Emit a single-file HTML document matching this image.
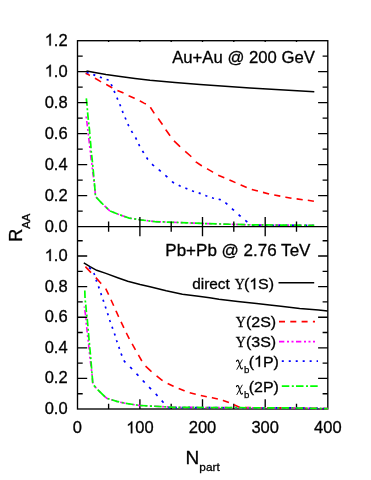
<!DOCTYPE html>
<html><head><meta charset="utf-8"><title>RAA vs Npart</title>
<style>html,body{margin:0;padding:0;background:#fff}svg{display:block;will-change:transform}text{font-family:"Liberation Sans",sans-serif;fill:#000;stroke:#000;stroke-width:0.3px}.sf{font-family:"Liberation Serif",serif}</style>
</head><body>
<svg width="371" height="480" viewBox="0 0 371 480">
<rect width="371" height="480" fill="#fff"/>
<g fill="none" stroke-linejoin="miter">
<polyline points="86.5,71.0 96.0,72.8 106.0,74.5 118.4,76.3 135.0,78.5 150.0,80.3 175.0,82.5 200.0,84.4 225.0,86.2 250.0,87.9 280.0,89.7 314.3,91.7" stroke="#000" stroke-width="1.5"/>
<path d="M85.60 73.30L88.90 74.90L89.90 75.43M95.00 78.15L95.10 78.20L100.30 81.40L101.10 81.81M106.20 84.40L106.80 84.70L111.60 87.50L112.30 87.86M117.40 90.44L123.00 92.80L123.50 93.06M128.60 95.75L128.70 95.80L134.40 98.20L134.70 98.35M139.80 100.85L140.10 101.00L144.00 103.10L145.90 104.03M150.36 107.30L154.27 113.40M158.20 118.50L162.40 124.50L162.46 124.60M165.74 129.70L165.80 129.80L169.90 135.50L170.12 135.80M174.00 140.89L179.50 146.20L180.10 146.75M185.20 151.41L190.80 156.20L191.25 156.70M195.81 161.80L195.90 161.90L201.60 165.70L201.90 165.87M207.00 168.73L207.30 168.90L212.90 172.10L213.10 172.22M218.20 175.17L224.30 177.79M229.40 179.98L231.30 180.80L235.50 182.64M240.60 184.87L240.90 185.00L246.70 187.42M251.80 189.40L257.90 191.07M263.00 192.38L269.10 194.05M274.20 194.98L274.30 195.00L280.30 196.09M285.40 197.12L285.80 197.20L291.50 198.25M296.60 198.89L296.70 198.90L302.70 199.78M307.80 200.33L313.90 201.25" stroke="#ff0000" stroke-width="1.6"/>
<path d="M86.10 116.50L86.38 118.50M86.72 121.00L87.00 123.00L87.41 126.30M87.74 129.00L87.80 129.50L87.97 131.00M88.26 133.50L88.49 135.50M88.77 138.00L89.00 140.00L89.36 143.30M89.65 146.00L89.70 146.50L89.88 148.00M90.18 150.50L90.30 151.50L90.39 152.50M90.62 155.00L90.80 157.00L91.31 160.30M91.72 163.00L91.80 163.50L91.97 165.00M92.24 167.50L92.30 168.00L92.46 169.50M92.74 172.00L92.90 173.50L93.55 177.30M93.90 180.00L94.12 182.00M94.40 184.50L94.60 186.30L94.62 186.50M94.85 189.00L95.30 193.90L95.33 194.30M95.97 197.00L97.84 199.00M100.19 201.50L101.50 202.90L102.10 203.47M104.60 205.85L105.60 206.80L109.70 210.80L109.90 210.88M112.60 211.98L114.60 212.80M117.10 213.81L117.80 214.10L119.10 214.56M121.60 215.44L126.00 217.00L126.90 217.31M129.60 218.16L131.60 218.47M134.10 218.86L136.10 219.18M138.60 219.57L140.10 219.80L143.90 220.26M146.60 220.59L148.60 220.83M151.10 221.13L153.10 221.37M155.60 221.62L160.90 221.83M163.60 221.93L165.60 222.01M168.10 222.11L170.10 222.19M172.60 222.28L177.90 222.49M180.60 222.59L182.60 222.67M185.10 222.77L187.10 222.85M189.60 222.94L194.90 223.15M197.60 223.26L199.60 223.33M202.10 223.43L203.90 223.50L204.10 223.51M206.60 223.58L211.90 223.73M214.60 223.81L216.60 223.86M219.10 223.93L221.10 223.99M223.60 224.06L228.90 224.21M231.60 224.29L233.60 224.35M236.10 224.42L238.10 224.47M240.60 224.55L245.90 224.70M248.60 224.77L249.50 224.80L250.60 224.81M253.10 224.83L255.10 224.85M257.60 224.88L262.90 224.92M265.60 224.95L267.60 224.97M270.10 224.99L272.10 225.01M274.60 225.03L279.90 225.08M282.60 225.11L284.60 225.12M287.10 225.15L289.10 225.17M291.60 225.19L296.90 225.24M299.60 225.26L301.60 225.28M304.10 225.31L306.10 225.32M308.60 225.35L313.90 225.40" stroke="#ff00ff" stroke-width="1.6"/>
<path d="M86.60 72.50L87.60 72.80L88.60 73.12M93.26 74.63L94.10 74.90L95.26 75.34M99.92 77.10L100.70 77.40L101.92 77.82M106.58 79.45L107.60 79.80L108.58 80.19M111.18 84.24L111.60 85.20L112.05 86.24M114.06 90.90L114.40 91.70L114.91 92.90M116.90 97.56L117.30 98.50L117.76 99.56M119.76 104.22L120.10 105.00L120.56 106.22M122.32 110.88L122.70 111.90L123.12 112.88M125.09 117.54L125.50 118.50L125.94 119.54M127.93 124.20L128.40 125.30L128.89 126.20M131.43 130.86L132.00 131.90L132.59 132.86M135.46 137.52L136.00 138.40L136.52 139.52M138.69 144.18L139.40 145.70L139.69 146.18M142.48 150.84L143.30 152.20L143.70 152.84M146.58 157.50L147.70 159.30L147.88 159.50M152.12 164.16L152.70 164.80L154.06 165.90M158.72 169.65L159.40 170.20L160.72 171.35M165.38 175.39L166.20 176.10L167.38 177.19M172.04 181.50L172.90 182.30L174.04 182.90M178.70 185.33L179.60 185.80L180.70 186.24M185.36 188.09L186.40 188.50L187.36 188.89M192.02 190.77L192.60 191.00L194.02 191.45M198.68 192.91L199.30 193.10L200.68 193.65M205.34 195.50L206.10 195.80L207.34 196.21M212.00 197.74L212.80 198.00L214.00 198.26M218.66 199.28L220.10 199.60L220.66 199.94M225.32 202.80L226.30 203.40L227.32 204.34M231.98 208.64L232.70 209.30L233.98 210.47M238.64 214.72L239.50 215.50L240.64 216.46M245.30 220.39L246.50 221.40L247.30 222.08M251.96 225.20L253.96 225.21M258.62 225.24L260.62 225.25M265.28 225.27L267.28 225.28M271.94 225.30L273.94 225.31M278.60 225.33L280.60 225.34M285.26 225.36L287.26 225.37M291.92 225.39L293.92 225.40M298.58 225.43L300.58 225.43M305.24 225.46L307.24 225.47M311.90 225.49L313.90 225.50" stroke="#0000ff" stroke-width="1.7"/>
<path d="M86.30 98.30L87.00 104.90L87.07 105.80M87.27 108.30L87.43 110.30M87.60 112.45L88.20 118.70L88.35 119.95M88.64 122.45L88.70 123.00L88.87 124.45M89.11 126.60L89.50 130.00L89.79 134.10M89.97 136.60L90.00 137.00L90.16 138.60M90.38 140.75L90.70 144.00L91.00 148.25M91.18 150.75L91.20 151.00L91.40 152.75M91.65 154.90L92.00 158.00L92.47 162.40M92.74 164.90L92.80 165.50L92.93 166.90M93.13 169.05L93.50 173.00L93.77 176.55M93.98 179.05L94.18 181.05M94.39 183.20L94.70 186.30L95.05 190.70M95.24 193.20L95.30 193.90L95.40 195.20M96.30 197.35L101.50 202.90L103.45 204.75M105.95 207.14L107.95 209.09M110.10 210.96L117.60 214.02M120.10 214.91L122.10 215.62M124.25 216.38L126.00 217.00L129.20 218.10L131.75 218.50M134.25 218.89L136.25 219.20M138.40 219.53L140.10 219.80L145.90 220.50M148.40 220.80L150.40 221.04M152.55 221.30L155.00 221.60L160.05 221.80M162.55 221.89L164.55 221.97M166.70 222.05L174.20 222.35M176.70 222.44L178.70 222.52M180.85 222.60L188.35 222.90M190.85 222.99L192.85 223.07M195.00 223.15L202.50 223.45M205.00 223.53L207.00 223.59M209.15 223.65L216.65 223.86M219.15 223.93L221.15 223.99M223.30 224.05L230.80 224.27M233.30 224.34L235.30 224.40M237.45 224.46L244.95 224.67M247.45 224.74L249.45 224.80M251.60 224.82L259.10 224.89M261.60 224.91L263.60 224.93M265.75 224.95L273.25 225.02M275.75 225.04L277.75 225.06M279.90 225.08L287.40 225.15M289.90 225.17L291.90 225.19M294.05 225.21L301.55 225.28M304.05 225.31L306.05 225.32M308.20 225.34L314.30 225.40" stroke="#00ff00" stroke-width="1.7"/>
</g>
<g stroke="#000" stroke-width="1.35" fill="none">
<rect x="77.5" y="40.7" width="250.3" height="368.3"/>
<line x1="77.5" y1="226.6" x2="327.8" y2="226.6"/>
<path d="M77.5 211.1h5.2M327.8 211.1h-5.2M77.5 195.6h9.7M327.8 195.6h-9.7M77.5 180.1h5.2M327.8 180.1h-5.2M77.5 164.6h9.7M327.8 164.6h-9.7M77.5 149.1h5.2M327.8 149.1h-5.2M77.5 133.6h9.7M327.8 133.6h-9.7M77.5 118.1h5.2M327.8 118.1h-5.2M77.5 102.6h9.7M327.8 102.6h-9.7M77.5 87.1h5.2M327.8 87.1h-5.2M77.5 71.6h9.7M327.8 71.6h-9.7M77.5 56.1h5.2M327.8 56.1h-5.2M77.5 393.7h5.2M327.8 393.7h-5.2M77.5 378.4h9.7M327.8 378.4h-9.7M77.5 363.1h5.2M327.8 363.1h-5.2M77.5 347.8h9.7M327.8 347.8h-9.7M77.5 332.5h5.2M327.8 332.5h-5.2M77.5 317.2h9.7M327.8 317.2h-9.7M77.5 301.9h5.2M327.8 301.9h-5.2M77.5 286.6h9.7M327.8 286.6h-9.7M77.5 271.3h5.2M327.8 271.3h-5.2M77.5 256.0h9.7M327.8 256.0h-9.7M77.5 240.7h5.2M327.8 240.7h-5.2M108.6 40.7v1.3M108.6 221.4v10.4M108.6 409.0v-5.2M139.9 40.7v1.3M139.9 216.9v19.4M139.9 409.0v-9.7M171.2 40.7v1.3M171.2 221.4v10.4M171.2 409.0v-5.2M202.5 40.7v1.3M202.5 216.9v19.4M202.5 409.0v-9.7M233.8 40.7v1.3M233.8 221.4v10.4M233.8 409.0v-5.2M265.2 40.7v1.3M265.2 216.9v19.4M265.2 409.0v-9.7M296.5 40.7v1.3M296.5 221.4v10.4M296.5 409.0v-5.2"/>
</g>
<g fill="none" stroke-linejoin="miter">
<polyline points="83.8,262.8 90.0,266.7 96.7,270.3 105.9,273.4 118.4,278.0 127.7,281.3 140.1,284.5 150.0,286.8 166.2,290.8 182.4,294.2 198.5,296.2 209.7,297.8 218.9,299.2 237.7,301.6 256.6,303.6 269.6,305.0 280.9,306.2 299.7,308.4 318.6,310.1 327.6,310.9" stroke="#000" stroke-width="1.5"/>
<path d="M85.40 266.60L90.10 271.60L91.05 272.60M95.84 277.65L100.40 282.80L101.20 283.65M105.74 288.70L108.40 294.20L108.63 294.70M110.97 299.75L113.60 305.50L113.71 305.75M115.96 310.80L116.00 310.90L118.50 316.50L118.64 316.80M121.05 321.85L123.91 327.85M126.31 332.90L126.60 333.50L129.30 338.90M132.12 343.95L132.70 344.90L135.45 349.95M138.38 355.00L138.50 355.20L141.84 361.00M145.55 366.05L151.20 371.30L151.55 371.61M156.60 375.95L162.10 380.30L162.60 380.59M167.65 383.51L173.40 386.20L173.65 386.31M178.70 388.50L184.30 390.70L184.70 390.86M189.75 392.76L195.75 394.26M200.80 395.50L206.80 396.70M211.85 397.64L212.20 397.70L217.85 398.95M222.90 400.34L223.10 400.40L228.90 402.55M233.95 404.78L234.00 404.80L239.95 407.53M245.00 407.63L251.00 407.67M256.05 407.70L262.05 407.73M267.10 407.76L273.10 407.80M278.15 407.83L284.15 407.86M289.20 407.90L290.00 407.90L295.20 408.00M300.25 408.09L306.25 408.20M311.30 408.29L317.30 408.41M322.35 408.50L327.80 408.60" stroke="#ff0000" stroke-width="1.6"/>
<path d="M84.40 306.50L84.52 307.70M84.77 310.20L84.80 310.50L85.50 314.50L85.60 315.50M85.87 318.20L86.00 319.50L86.03 320.20M86.16 322.70L86.20 323.50L86.34 324.70M86.64 327.20L86.80 328.50L87.23 332.50M87.51 335.20L87.60 336.00L87.75 337.20M88.06 339.70L88.20 340.80L88.30 341.70M88.59 344.20L88.80 346.00L89.12 349.50M89.36 352.20L89.55 354.20M89.78 356.70L89.90 358.00L89.99 358.70M90.33 361.20L90.70 364.00L91.03 366.50M91.39 369.20L91.50 370.00L91.64 371.20M91.94 373.70L92.18 375.70M92.37 378.20L92.70 382.70L92.87 383.50M94.57 386.20L96.40 388.20M98.70 390.70L100.70 392.61M103.20 395.00L105.50 397.20L107.20 398.40L108.50 398.81M111.20 399.65L113.20 400.27M115.70 401.06L116.80 401.40L117.70 401.60M120.20 402.16L125.30 403.30L125.50 403.33M128.20 403.74L130.20 404.05M132.70 404.43L134.70 404.74M137.20 405.12L139.70 405.50L142.50 405.64M145.20 405.78L147.20 405.89M149.70 406.02L151.70 406.12M154.20 406.25L159.50 406.52M162.20 406.66L164.20 406.77M166.70 406.90L168.70 407.00M171.20 407.13L174.50 407.30L176.50 407.31M179.20 407.33L181.20 407.34M183.70 407.36L185.70 407.37M188.20 407.38L193.50 407.42M196.20 407.43L198.20 407.44M200.70 407.46L202.70 407.47M205.20 407.49L210.50 407.52M213.20 407.54L215.20 407.55M217.70 407.56L219.70 407.58M222.20 407.59L227.50 407.62M230.20 407.64L232.20 407.65M234.70 407.67L236.70 407.68M239.20 407.70L240.00 407.70L244.50 407.72M247.20 407.73L249.20 407.74M251.70 407.75L253.70 407.75M256.20 407.76L261.50 407.79M264.20 407.80L266.20 407.80M268.70 407.81L270.70 407.82M273.20 407.83L278.50 407.85M281.20 407.86L283.20 407.87M285.70 407.88L287.70 407.89M290.20 407.90L295.50 408.00M298.20 408.05L300.20 408.09M302.70 408.14L304.70 408.17M307.20 408.22L312.50 408.32M315.20 408.37L317.20 408.40M319.70 408.45L321.70 408.49M324.20 408.53L327.80 408.60" stroke="#ff00ff" stroke-width="1.6"/>
<path d="M88.92 267.58L89.70 268.10L90.92 268.95M93.96 272.94L94.20 273.80L94.56 274.94M96.04 279.66L96.40 280.80L96.72 281.66M98.46 286.38L98.80 287.30L99.17 288.38M100.76 293.10L101.00 293.80L101.45 295.10M103.07 299.82L103.30 300.50L103.74 301.82M105.31 306.54L105.60 307.40L105.97 308.54M107.52 313.26L107.80 314.10L108.17 315.26M109.67 319.98L110.00 321.00L110.35 321.98M112.01 326.70L112.40 327.80L112.72 328.70M114.41 333.42L114.80 334.50L115.08 335.42M116.51 340.14L116.80 341.10L117.16 342.14M118.81 346.86L119.10 347.70L119.50 348.86M121.12 353.58L121.50 354.70L121.89 355.58M123.96 360.30L124.40 361.30L125.40 362.30M130.12 367.02L131.00 367.90L132.05 369.02M136.50 373.74L137.40 374.70L138.38 375.74M142.81 380.46L143.60 381.30L144.69 382.46M149.12 387.18L149.80 387.90L151.06 389.18M155.71 393.90L156.30 394.50L157.54 395.90M161.72 400.62L162.50 401.50L163.58 402.62M168.14 407.17L169.00 407.60L170.14 407.60M174.86 407.61L176.86 407.62M181.58 407.63L183.58 407.64M188.30 407.65L190.30 407.65M195.02 407.66L197.02 407.67M201.74 407.68L203.74 407.69M208.46 407.70L210.46 407.70M215.18 407.71L217.18 407.72M221.90 407.73L223.90 407.74M228.62 407.75L230.62 407.75M235.34 407.76L237.34 407.77M242.06 407.78L244.06 407.79M248.78 407.80L250.78 407.80M255.50 407.81L257.50 407.82M262.22 407.83L264.22 407.84M268.94 407.85L270.94 407.85M275.66 407.86L277.66 407.87M282.38 407.88L284.38 407.89M289.10 407.90L290.00 407.90L291.10 407.92M295.82 408.01L297.82 408.04M302.54 408.13L304.54 408.17M309.26 408.26L311.26 408.29M315.98 408.38L317.98 408.42M322.70 408.51L324.70 408.54" stroke="#0000ff" stroke-width="1.7"/>
<path d="M84.80 290.50L85.00 297.00L85.07 298.00M85.25 300.50L85.30 301.20L85.47 302.50M85.75 304.65L85.80 305.00L86.30 311.00L86.44 312.15M86.76 314.65L86.80 315.00L86.99 316.65M87.23 318.80L87.80 325.00L87.91 326.30M88.13 328.80L88.30 330.80M88.48 332.95L89.12 340.45M89.34 342.95L89.53 344.95M89.74 347.10L90.30 353.00L90.44 354.60M90.65 357.10L90.82 359.10M91.01 361.25L91.10 362.30L91.60 368.75M91.81 371.25L91.98 373.25M92.16 375.40L92.20 375.90L92.70 382.70L92.74 382.90M93.83 385.40L95.67 387.40M97.64 389.55L98.70 390.70L105.05 396.77M107.55 398.51L109.55 399.13M111.70 399.81L116.80 401.40L119.20 401.94M121.70 402.50L123.70 402.94M125.85 403.38L133.35 404.53M135.85 404.91L137.85 405.22M140.00 405.52L147.50 405.90M150.00 406.03L152.00 406.14M154.15 406.25L161.65 406.64M164.15 406.76L166.15 406.87M168.30 406.98L174.50 407.30L175.80 407.31M178.30 407.32L180.30 407.34M182.45 407.35L189.95 407.39M192.45 407.41L194.45 407.42M196.60 407.43L204.10 407.48M206.60 407.50L208.60 407.51M210.75 407.52L218.25 407.57M220.75 407.58L222.75 407.59M224.90 407.61L232.40 407.65M234.90 407.67L236.90 407.68M239.05 407.69L240.00 407.70L246.55 407.73M249.05 407.74L251.05 407.74M253.20 407.75L260.70 407.78M263.20 407.79L265.20 407.80M267.35 407.81L274.85 407.84M277.35 407.85L279.35 407.86M281.50 407.87L289.00 407.90M291.50 407.93L293.50 407.96M295.65 408.00L303.15 408.14M305.65 408.19L307.65 408.23M309.80 408.27L317.30 408.41M319.80 408.45L321.80 408.49M323.95 408.53L327.80 408.60" stroke="#00ff00" stroke-width="1.7"/>
</g>
<g font-size="16.5" text-anchor="end">
<text x="67.6" y="231.6">0.0</text>
<text x="67.6" y="200.6">0.2</text>
<text x="67.6" y="169.6">0.4</text>
<text x="67.6" y="138.6">0.6</text>
<text x="67.6" y="107.6">0.8</text>
<text x="67.6" y="76.6">.0</text>
<path transform="translate(44.66,76.60) scale(0.00806,-0.00806)" d="M763 0H583V1147Q518 1085 412.5 1023T223 930V1104Q374 1175 487 1276T647 1472H763Z" fill="#000" stroke="#000" stroke-width="37"/>
<text x="67.6" y="45.6">.2</text>
<path transform="translate(44.66,45.60) scale(0.00806,-0.00806)" d="M763 0H583V1147Q518 1085 412.5 1023T223 930V1104Q374 1175 487 1276T647 1472H763Z" fill="#000" stroke="#000" stroke-width="37"/>
<text x="67.6" y="414.0">0.0</text>
<text x="67.6" y="383.4">0.2</text>
<text x="67.6" y="352.8">0.4</text>
<text x="67.6" y="322.2">0.6</text>
<text x="67.6" y="291.6">0.8</text>
<text x="67.6" y="261.0">.0</text>
<path transform="translate(44.66,261.00) scale(0.00806,-0.00806)" d="M763 0H583V1147Q518 1085 412.5 1023T223 930V1104Q374 1175 487 1276T647 1472H763Z" fill="#000" stroke="#000" stroke-width="37"/>
</g>
<g font-size="16.5" text-anchor="middle">
<text x="77.3" y="433.3">0</text>
<path transform="translate(126.16,433.30) scale(0.00806,-0.00806)" d="M763 0H583V1147Q518 1085 412.5 1023T223 930V1104Q374 1175 487 1276T647 1472H763Z" fill="#000" stroke="#000" stroke-width="37"/>
<text x="135.33" y="433.3" text-anchor="start">00</text>
<text x="202.5" y="433.3">200</text>
<text x="265.2" y="433.3">300</text>
<text x="327.8" y="433.3">400</text>
</g>
<text x="172.2" y="63.2" font-size="16.7">Au+Au @ 200 GeV</text>
<text x="165.3" y="255.9" font-size="17.03">Pb+Pb @ 2.76 TeV</text>
<g font-size="15.4">
<text x="229.8" y="289.2" text-anchor="end">direct</text>
<text transform="translate(234.7,289.2) scale(0.95,1)" class="sf" font-size="14.5">&#933;</text>
<g transform="translate(243.9,289.2) scale(1.04,1)"><text>(</text><path transform="translate(5.13,0.00) scale(0.00752,-0.00752)" d="M763 0H583V1147Q518 1085 412.5 1023T223 930V1104Q374 1175 487 1276T647 1472H763Z" fill="#000" stroke="#000" stroke-width="40"/><text x="13.69">S)</text></g>
<text transform="translate(235.7,327.4) scale(0.95,1)" class="sf" font-size="14.5">&#933;</text>
<text transform="translate(245.9,327.2) scale(1.04,1)">(2S)</text>
<text transform="translate(235.7,346.7) scale(0.95,1)" class="sf" font-size="14.5">&#933;</text>
<text transform="translate(245.9,346.5) scale(1.04,1)">(3S)</text>
<g transform="translate(236.2,359.4)" fill="none" stroke="#000" stroke-linecap="round"><path d="M0.3 1.9C0.5 0.7 1.7 0.3 2.3 1.5L4.5 8.5C4.9 9.8 5.9 9.7 6.2 8.6" stroke-width="1.15"/><path d="M6.0 0.4L0.7 9.9" stroke-width="0.9"/></g>
<text x="244.1" y="372.6" font-size="9.7" style="stroke-width:0.25px">b</text>
<g transform="translate(248.7,366.8) scale(1.04,1)"><text>(</text><path transform="translate(5.13,0.00) scale(0.00752,-0.00752)" d="M763 0H583V1147Q518 1085 412.5 1023T223 930V1104Q374 1175 487 1276T647 1472H763Z" fill="#000" stroke="#000" stroke-width="40"/><text x="13.69">P)</text></g>
<g transform="translate(236.2,384.7)" fill="none" stroke="#000" stroke-linecap="round"><path d="M0.3 1.9C0.5 0.7 1.7 0.3 2.3 1.5L4.5 8.5C4.9 9.8 5.9 9.7 6.2 8.6" stroke-width="1.15"/><path d="M6.0 0.4L0.7 9.9" stroke-width="0.9"/></g>
<text x="244.1" y="398.0" font-size="9.7" style="stroke-width:0.25px">b</text>
<text transform="translate(248.7,392.1) scale(1.04,1)">(2P)</text>
</g>
<g fill="none">
<line x1="278.5" y1="282.7" x2="314.2" y2="282.7" stroke="#000" stroke-width="1.5"/>
<line x1="279" y1="321.6" x2="315" y2="321.6" stroke="#ff0000" stroke-width="1.6" stroke-dasharray="6 5.3"/>
<line x1="279" y1="341.6" x2="315" y2="341.6" stroke="#ff00ff" stroke-width="1.6" stroke-dasharray="5.3 2.7 2 2.5 2 2.5"/>
<line x1="281.8" y1="361.2" x2="318" y2="361.2" stroke="#0000ff" stroke-width="1.7" stroke-dasharray="2 4.96"/>
<line x1="281.8" y1="386.2" x2="317.7" y2="386.2" stroke="#00ff00" stroke-width="1.7" stroke-dasharray="7.5 2.5 2 2.2"/>
</g>
<g transform="translate(21.8,241.8) rotate(-90)"><text x="0" y="0" font-size="18">R<tspan font-size="11.4" dy="8.3">AA</tspan></text></g>
<text x="185.6" y="464.2" font-size="19">N<tspan font-size="11.8" dy="6.8">part</tspan></text>
</svg>
</body></html>
